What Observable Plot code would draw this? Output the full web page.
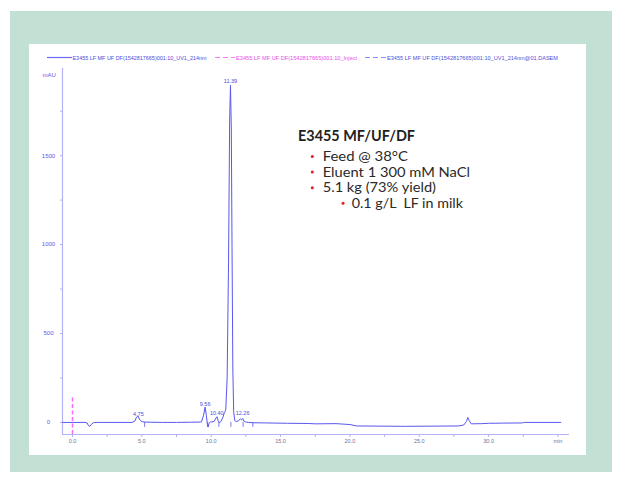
<!DOCTYPE html>
<html><head><meta charset="utf-8">
<script src="https://cdn.jsdelivr.net/npm/d3@7"></script>
<script src="https://cdn.jsdelivr.net/npm/@observablehq/plot@0.6"></script>
<style>
html,body{margin:0;padding:0;background:#fff;width:622px;height:482px;overflow:hidden;font-family:"Liberation Sans",Arial,sans-serif}
#frame{position:absolute;left:10px;top:11px;width:602px;height:461px;background:#c2e1d4}
#panel{position:absolute;left:29px;top:44px;width:557px;height:411px;background:#fff}
#chart{position:absolute;left:0;top:0}
#overlay{position:absolute;left:0;top:0;pointer-events:none}
#overlay text{white-space:pre}
</style></head>
<body>
<div id="frame"></div>
<div id="panel"><div id="chart"></div>
<svg id="overlay" width="557" height="411"></svg></div>
<script>
// ---- data ----
const time = [-0.7,0.9,1.05,1.15,1.25,1.35,1.5,1.7,4.3,4.5,4.62,4.72,4.85,5.0,5.2,5.6,6.5,7.5,8.5,9.2,9.3,9.45,9.56,9.65,9.72,9.78,9.85,9.95,10.2,10.35,10.42,10.5,10.6,10.7,10.85,10.95,11.05,11.15,11.25,11.33,11.39,11.45,11.5,11.56,11.62,11.7,11.8,11.95,12.1,12.2,12.28,12.35,12.5,12.7,13.0,14.0,15.5,17.0,17.5,19.0,20.0,20.5,24.0,27.8,28.2,28.4,28.5,28.6,28.75,29.5,30.0,31.0,32.4,32.6,35.2];
const mAU  = [0,0,-3,-18,-22,-12,-2,0,0,8,30,36,15,4,2,1,0,0,1,2,3,40,86,40,-10,-26,-5,2,5,25,32,10,-2,5,30,55,70,250,900,1700,1895,1650,1000,300,60,10,5,8,20,14,22,8,2,0,-2,-3,-5,-6,-8,-7,-12,-20,-22,-20,-15,5,28,10,-8,-7,-5,-4,-3,0,0];
const peakTimes  = [4.75, 9.56, 10.40, 11.39, 12.26];
const peakLabels = ["4.75", "9.56", "10.40", "11.39", "12.26"];
const peakLabelY = [38, 95, 44, 1910, 44];
const markerTimes = [5.2, 9.75, 10.55, 11.42, 12.3, 13.0];
const injectTime = [0];
const injectTop = 140;
const yTicks = [0, 500, 1000, 1500];
const yMinor = [250, 750, 1250, 1750];
const xTicks = [0, 5, 10, 15, 20, 25, 30, 35];
const xTickLabels = ["0.0", "5.0", "10.0", "15.0", "20.0", "25.0", "30.0", "min"];
const xMinor = [2.5, 7.5, 12.5, 17.5, 22.5, 27.5, 32.5];
const legendNames = ["E3455 LF MF UF DF(1542817665)001:10_UV1_214nm", "E3455 LF MF UF DF(1542817665)001:10_Inject", "E3455 LF MF UF DF(1542817665)001:10_UV1_214nm@01.DASEM"];
const noteTitle = "E3455 MF/UF/DF";
const noteLines = ["Feed @ 38°C", "Eluent 1 300 mM NaCl", "5.1 kg (73% yield)", "0.1 g/L  LF in milk"];

// ---- chart ----
const trace = time.map((t, i) => ({t, v: mAU[i]}));
const xDom = [-0.72, 35.83], yDom = [-68, 1990];
const axisCol = "#b2b2f4", blue = "#5858ee";
const xLab = new Map(xTicks.map((d, i) => [d, xTickLabels[i]]));
const plot = Plot.plot({
  width: 557, height: 411,
  marginLeft: 33, marginRight: 17, marginTop: 24, marginBottom: 21,
  x: {domain: xDom, label: null},
  y: {domain: yDom, label: null},
  style: {background: "transparent", fontFamily: "Liberation Sans, Arial, sans-serif", fontSize: "6px"},
  marks: [
    Plot.ruleX([xDom[0]], {stroke: axisCol, strokeWidth: 1.2}),
    Plot.ruleY([yDom[0]], {stroke: axisCol, strokeWidth: 1.2}),
    Plot.axisY(yTicks, {tickSize: 2, tickPadding: 12, textAnchor: "middle", stroke: axisCol, fill: "#5a5ae6", label: null, tickFormat: d => String(d), fontSize: 6}),
    Plot.axisY(yMinor, {tickSize: 2, text: null, label: null, stroke: axisCol}),
    Plot.axisX(xTicks, {tickSize: 3, tickPadding: 1.5, stroke: axisCol, fill: "#70709a", label: null, tickFormat: d => xLab.get(d), fontSize: 5.5}),
    Plot.axisX(xMinor, {tickSize: 3, text: null, label: null, stroke: axisCol}),
    Plot.ruleX(injectTime, {x: d => d, y1: yDom[0], y2: injectTop, stroke: "#ff66ff", strokeWidth: 1.5, strokeDasharray: "4,2.5"}),
    Plot.ruleX(markerTimes, {x: d => d, y1: 0, y2: -28, stroke: blue, strokeWidth: 0.8}),
    Plot.line(trace, {x: "t", y: "v", stroke: blue, strokeWidth: 1}),
    Plot.text(peakTimes, {x: d => d, y: (d, i) => peakLabelY[i], text: (d, i) => peakLabels[i], fill: "#4a4ad8", fontSize: 5.5, dy: -1}),
    Plot.text(["mAU"], {frameAnchor: "top-left", dx: -20, dy: 4, fill: "#5a5ae6", fontSize: 6})
  ]
});
document.getElementById("chart").appendChild(plot);

// ---- legend & note overlay ----
const ov = d3.select("#overlay");
const leg = [
  {x1: 18, x2: 43, dash: null, col: "#6a6af2", tcol: "#4a4ae0", tx: 43.5, tw: 134},
  {x1: 186, x2: 206, dash: "5,3", col: "#ff77ff", tcol: "#ea4cea", tx: 207, tw: 121},
  {x1: 336, x2: 357, dash: "5,3", col: "#8a8af2", tcol: "#5050d8", tx: 358, tw: 171}
];
leg.forEach((L, i) => {
  ov.append("line").attr("x1", L.x1).attr("x2", L.x2).attr("y1", 13.5).attr("y2", 13.5)
    .attr("stroke", L.col).attr("stroke-width", 1.2).attr("stroke-dasharray", L.dash);
  ov.append("text").attr("x", L.tx).attr("y", 15.5).attr("fill", L.tcol)
    .attr("font-family", "Liberation Sans, Arial, sans-serif").attr("font-size", 5.6)
    .attr("textLength", L.tw).attr("lengthAdjust", "spacingAndGlyphs").text(legendNames[i]);
});
const nf = "Lato, 'Open Sans', sans-serif";
ov.append("text").attr("x", 269).attr("y", 97).attr("fill", "#1e1e1e")
  .attr("font-family", nf).attr("font-weight", 700).attr("font-size", 15.5)
  .attr("textLength", 117).attr("lengthAdjust", "spacingAndGlyphs").text(noteTitle);
const baseY = [117, 132.6, 148.2, 163.8];
const textX = [293.7, 293.7, 293.7, 322.7];
const bulletX = [283.3, 283.3, 283.3, 314];
const textW = [85.3, 147.3, 113.3, 111.3];
noteLines.forEach((s, i) => {
  ov.append("circle").attr("cx", bulletX[i]).attr("cy", baseY[i] - 4.5).attr("r", 1.5).attr("fill", "#e02020");
  ov.append("text").attr("x", textX[i]).attr("y", baseY[i]).attr("fill", "#2a2a2a")
    .attr("font-family", nf).attr("font-size", 12.7)
    .attr("textLength", textW[i]).attr("lengthAdjust", "spacingAndGlyphs").text(s);
});
</script>
</body></html>
